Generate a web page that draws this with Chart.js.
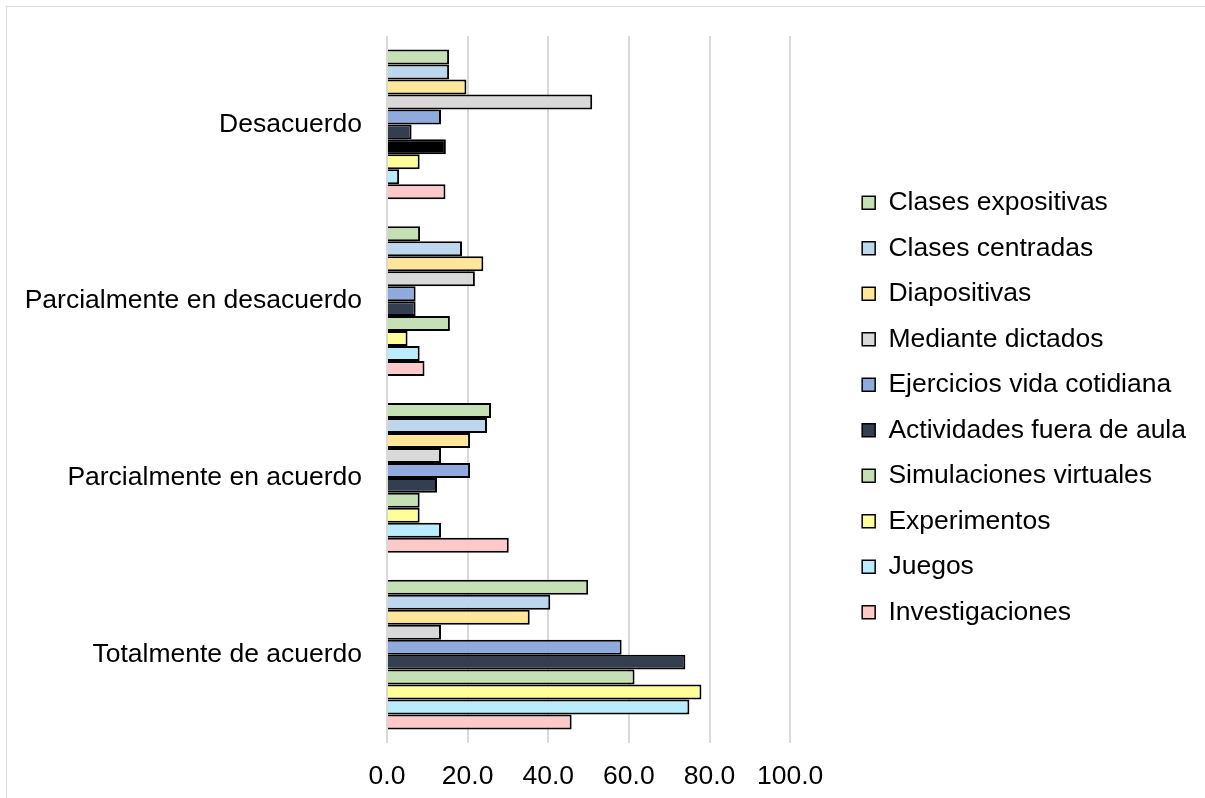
<!DOCTYPE html>
<html lang="es">
<head>
<meta charset="utf-8">
<title>Valoración de estrategias didácticas</title>
<script src="https://cdn.jsdelivr.net/npm/chart.js@4.4.1/dist/chart.umd.min.js"></script>
<style>
  html, body { margin: 0; padding: 0; background: #ffffff; overflow: hidden; }
  #wrap { position: relative; width: 1205px; height: 798px; }
  #frame {
    position: absolute; left: 6px; top: 6px; width: 1300px; height: 900px;
    border-top: 1.5px solid #d9d9d9; border-left: 1.5px solid #d9d9d9;
    pointer-events: none;
  }
  canvas { position: absolute; left: 0; top: 0; }
</style>
</head>
<body>
<div id="wrap">
  <canvas id="chart" width="1205" height="798"></canvas>
  <div id="frame"></div>
</div>
<script>
// Response categories (top to bottom)
const categorias = ['Desacuerdo', 'Parcialmente en desacuerdo', 'Parcialmente en acuerdo', 'Totalmente de acuerdo'];

// Percentage of answers per strategy, in the same order as the categories
const clasesExpositivas    = [15.4,  8.2, 25.8, 49.9];
const clasesCentradas      = [15.4, 18.6, 24.8, 40.5];
const diapositivas         = [19.7, 23.9, 20.6, 35.4];
const medianteDictados     = [50.9, 21.8, 13.4, 13.4];
const ejerciciosCotidiana  = [13.4,  7.1, 20.6, 58.2];
const actividadesFuera     = [ 6.1,  7.1, 12.4, 74.0];
const simulaciones         = [14.6, 15.6,  8.1, 61.4];
const experimentos         = [ 8.1,  5.1,  8.1, 78.0];
const juegos               = [ 3.0,  8.1, 13.4, 75.0];
const investigaciones      = [14.5,  9.3, 30.2, 45.8];

const xTicks = [0, 20, 40, 60, 80, 100];

const series = [
  { label: 'Clases expositivas',        data: clasesExpositivas,   color: '#c5e0b4' },
  { label: 'Clases centradas',          data: clasesCentradas,     color: '#bdd7ee' },
  { label: 'Diapositivas',              data: diapositivas,        color: '#ffe699' },
  { label: 'Mediante dictados',         data: medianteDictados,    color: '#d9d9d9' },
  { label: 'Ejercicios vida cotidiana', data: ejerciciosCotidiana, color: '#8faadc' },
  { label: 'Actividades fuera de aula', data: actividadesFuera,    color: '#333f50' },
  { label: 'Simulaciones virtuales',    data: simulaciones,        color: '#c5e0b4' },
  { label: 'Experimentos',              data: experimentos,        color: '#ffff99' },
  { label: 'Juegos',                    data: juegos,              color: '#b9ecfc' },
  { label: 'Investigaciones',           data: investigaciones,     color: '#ffc9c9' }
];

// The "Desacuerdo" bar of Simulaciones virtuales is filled black
const pointFill = (s) => s.label === 'Simulaciones virtuales'
  ? s.data.map((_, i) => i === 0 ? '#000000' : s.color)
  : s.color;

const FONT = "'Liberation Sans', Arial, sans-serif";
Chart.defaults.font.family = FONT;
Chart.defaults.color = '#000000';

// Gives the right-hand legend extra room on its left and a small vertical nudge
const legendGap = {
  id: 'legendGap',
  beforeLayout(chart, args, opts) {
    const lg = chart.legend;
    if (lg && !lg._gapPatched) {
      const fit = lg.fit.bind(lg);
      lg.fit = function () { fit(); this.width += opts.gap; };
      lg._gapPatched = true;
    }
  },
  afterLayout(chart, args, opts) {
    const lg = chart.legend;
    if (!lg) return;
    lg.left += opts.gap;
    lg.top += opts.dy;
    lg.bottom += opts.dy;
  }
};

new Chart(document.getElementById('chart'), {
  type: 'bar',
  data: {
    labels: categorias,
    datasets: series.map(s => ({
      label: s.label,
      data: s.data,
      backgroundColor: pointFill(s),
      borderColor: '#000000',
      borderWidth: 2,
      borderSkipped: 'start',
      categoryPercentage: 0.848,
      barPercentage: 1.0
    }))
  },
  options: {
    indexAxis: 'y',
    responsive: false,
    animation: false,
    layout: { padding: { left: 25, right: 9, top: 36, bottom: 7 } },
    scales: {
      x: {
        min: 0,
        max: 100,
        afterBuildTicks: (axis) => { axis.ticks = xTicks.map(v => ({ value: v })); },
        afterFit: (axis) => { axis.height = 48; },
        ticks: {
          callback: (v) => Number(v).toFixed(1),
          font: { size: 26.5 },
          padding: 18,
          maxRotation: 0,
          color: '#000000'
        },
        grid: { color: '#d9d9d9', lineWidth: 2, drawTicks: false },
        border: { display: false }
      },
      y: {
        afterFit: (axis) => { axis.width = 362; axis.paddingTop = 0; axis.paddingBottom = 0; },
        ticks: { font: { size: 26.5 }, padding: 25, color: '#000000' },
        grid: { display: false, drawTicks: false },
        border: { display: false }
      }
    },
    plugins: {
      legendGap: { gap: 53, dy: -6 },
      tooltip: { enabled: false },
      legend: {
        position: 'right',
        align: 'center',
        maxWidth: 700,
        labels: {
          font: { size: 26.5 },
          color: '#000000',
          boxWidth: 13,
          boxHeight: 13,
          padding: 19,
          generateLabels(chart) {
            const items = Chart.defaults.plugins.legend.labels.generateLabels(chart);
            items.forEach((it, i) => {
              it.fillStyle = series[i].color;
              it.strokeStyle = '#000000';
              it.lineWidth = 1.5;
            });
            return items;
          }
        }
      }
    }
  },
  plugins: [legendGap]
});
</script>
</body>
</html>
